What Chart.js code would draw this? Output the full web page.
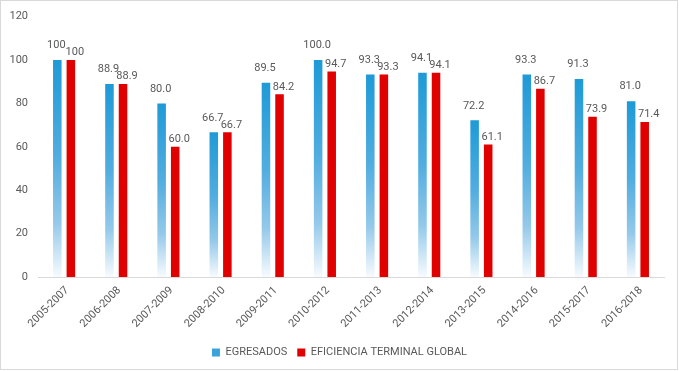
<!DOCTYPE html>
<html>
<head>
<meta charset="utf-8">
<script src="https://cdn.jsdelivr.net/npm/chart.js@4/dist/chart.umd.min.js"></script>
<style>
  html, body { margin: 0; padding: 0; background: #fff; }
  #wrap { width: 679px; height: 371px; }
</style>
</head>
<body>
<div id="wrap"><canvas id="chart" width="679" height="371"></canvas></div>
<script>
const categories = ['2005-2007', '2006-2008', '2007-2009', '2008-2010', '2009-2011', '2010-2012',
  '2011-2013', '2012-2014', '2013-2015', '2014-2016', '2015-2017', '2016-2018'];
const egresados = [100, 88.9, 80.0, 66.7, 89.5, 100.0, 93.3, 94.1, 72.2, 93.3, 91.3, 81.0];
const eficiencia = [100, 88.9, 60.0, 66.7, 84.2, 94.7, 93.3, 94.1, 61.1, 86.7, 73.9, 71.4];
// label text as shown (first column has no decimals)
const egresadosText = ['100', '88.9', '80.0', '66.7', '89.5', '100.0', '93.3', '94.1', '72.2', '93.3', '91.3', '81.0'];
const eficienciaText = ['100', '88.9', '60.0', '66.7', '84.2', '94.7', '93.3', '94.1', '61.1', '86.7', '73.9', '71.4'];
const yTicks = [0, 20, 40, 60, 80, 100, 120];

const FONT = "Roboto, 'Liberation Sans', sans-serif";
const TEXT = '#595959';
const BLUE_SOLID = '#3aa3dc';

const blueGradient = function(context) {
  const chart = context.chart;
  const { ctx, chartArea, scales } = chart;
  if (!chartArea || context.dataIndex === undefined) return BLUE_SOLID;
  const top = scales.y.getPixelForValue(context.raw);
  const base = scales.y.getPixelForValue(0);
  const g = ctx.createLinearGradient(0, top, 0, base);
  g.addColorStop(0, '#1e9ad6');
  g.addColorStop(0.45, '#52ade0');
  g.addColorStop(0.75, '#94c9ea');
  g.addColorStop(1, '#f7fbfe');
  return g;
};

// value labels above the bars
const barLabels = {
  id: 'barLabels',
  afterDatasetsDraw(chart) {
    const ctx = chart.ctx;
    ctx.save();
    ctx.font = '11px ' + FONT;
    ctx.fillStyle = TEXT;
    ctx.textAlign = 'center';
    ctx.textBaseline = 'bottom';
    chart.data.datasets.forEach((ds, i) => {
      const meta = chart.getDatasetMeta(i);
      const texts = i === 0 ? egresadosText : eficienciaText;
      const dx = i === 0 ? -1 : 4;
      const dy = i === 0 ? 9 : 2;
      meta.data.forEach((bar, j) => {
        ctx.fillText(texts[j], bar.x + dx, bar.y - dy);
      });
    });
    ctx.restore();
  }
};

const frame = {
  id: 'frame',
  beforeDraw(chart) {
    const ctx = chart.ctx;
    ctx.save();
    ctx.fillStyle = '#fff';
    ctx.fillRect(0, 0, chart.width, chart.height);
    ctx.strokeStyle = '#d9d9d9';
    ctx.lineWidth = 1;
    ctx.strokeRect(0.5, 0.5, chart.width - 2, chart.height - 2);
    ctx.restore();
  }
};

new Chart(document.getElementById('chart'), {
  type: 'bar',
  data: {
    labels: categories,
    datasets: [{
      label: 'EGRESADOS',
      data: egresados,
      backgroundColor: blueGradient,
      categoryPercentage: 0.52,
      barPercentage: 0.63
    }, {
      label: 'EFICIENCIA TERMINAL GLOBAL',
      data: eficiencia,
      backgroundColor: '#e00000',
      categoryPercentage: 0.52,
      barPercentage: 0.63
    }]
  },
  options: {
    responsive: false,
    animation: false,
    layout: {
      padding: { top: 13, right: 0, bottom: 3, left: 0 }
    },
    scales: {
      x: {
        grid: { display: false, drawTicks: false },
        border: { display: true, color: '#d9d9d9', width: 1 },
        ticks: {
          color: TEXT,
          font: { family: FONT, size: 11 },
          maxRotation: 45,
          minRotation: 45,
          padding: 7,
          labelOffset: 3,
          autoSkip: false
        },
        afterFit: function(scale) { scale.height = 60; }
      },
      y: {
        min: 0,
        max: 120,
        grid: { display: false, drawTicks: false },
        border: { display: false },
        afterBuildTicks: function(scale) {
          scale.ticks = yTicks.map(v => ({ value: v }));
        },
        ticks: {
          color: TEXT,
          font: { family: FONT, size: 11 },
          padding: 10
        },
        afterFit: function(scale) { scale.width = 38; }
      },
      // empty right margin so the legend centres on the whole canvas
      spacer: {
        type: 'linear',
        position: 'right',
        min: 0,
        max: 120,
        grid: { display: false, drawTicks: false },
        border: { display: false },
        ticks: { display: false },
        afterFit: function(scale) { scale.width = 15; }
      }
    },
    plugins: {
      legend: {
        position: 'bottom',
        labels: {
          color: TEXT,
          font: { family: FONT, size: 11 },
          boxWidth: 8,
          boxHeight: 8,
          padding: 10,
          generateLabels: function(chart) {
            const items = Chart.defaults.plugins.legend.labels.generateLabels(chart);
            items.forEach(item => {
              if (item.datasetIndex === 0) {
                item.fillStyle = BLUE_SOLID;
                item.strokeStyle = BLUE_SOLID;
              }
              item.lineWidth = 0;
            });
            return items;
          }
        }
      },
      tooltip: { enabled: false }
    }
  },
  plugins: [frame, barLabels]
});
</script>
</body>
</html>
